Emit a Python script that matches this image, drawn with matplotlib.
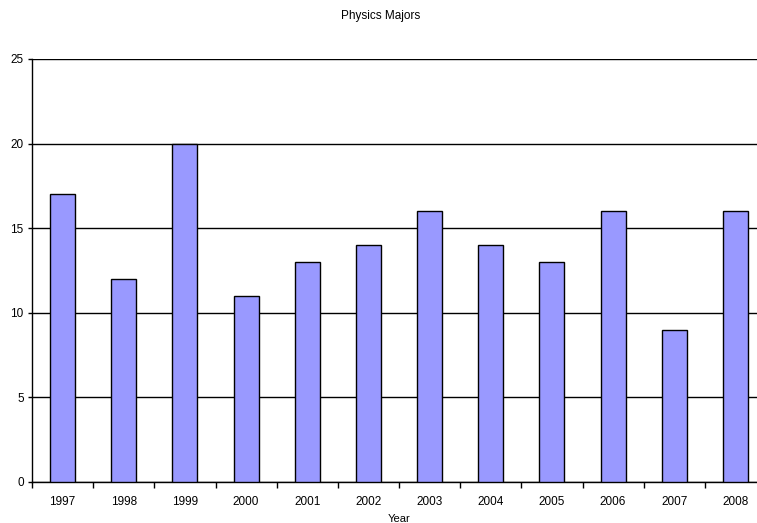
import matplotlib
matplotlib.use("Agg")
import matplotlib.pyplot as plt
import numpy as np

years = ["1997", "1998", "1999", "2000", "2001", "2002",
         "2003", "2004", "2005", "2006", "2007", "2008"]
majors = [17, 12, 20, 11, 13, 14, 16, 14, 13, 16, 9, 16]
y_ticks = [0, 5, 10, 15, 20, 25]

plt.rcParams["font.family"] = ["Liberation Sans", "DejaVu Sans"]

fig = plt.figure(figsize=(7.57, 5.23), dpi=100)
ax = fig.add_axes([32 / 757, 41 / 523, 734 / 757, 423 / 523])

x = np.arange(len(years))
ax.bar(x, majors, width=0.41, color="#9999FF", edgecolor="black",
       linewidth=1.0, zorder=3)

ax.set_xlim(-0.5, len(years) - 0.5)
ax.set_ylim(0, 25)
ax.set_yticks(y_ticks)
ax.set_yticklabels([str(v) for v in y_ticks], fontsize=8.5)
ax.yaxis.grid(True, color="black", linewidth=1.0, zorder=0)

ax.set_xticks(x)
ax.set_xticklabels(years, fontsize=8.5)
ax.set_xticks(np.arange(len(years) + 1) - 0.5, minor=True)
ax.tick_params(axis="x", which="major", length=0, pad=10)
ax.tick_params(axis="x", which="minor", length=4, width=1, direction="out")
ax.tick_params(axis="y", length=3, width=1, direction="out", pad=3)

for side in ("top", "right"):
    ax.spines[side].set_visible(False)
for side in ("left", "bottom"):
    ax.spines[side].set_linewidth(1.0)

# Axis caption placed in figure coordinates so it sits just above the bottom edge
fig.text(399 / 757, 1 - 519 / 523, "Year", ha="center", va="center",
         fontsize=8)
fig.text(0.503, 1 - 16 / 523, "Physics Majors", ha="center", va="center",
         fontsize=8.5)

fig.savefig("out.png", dpi=100)
